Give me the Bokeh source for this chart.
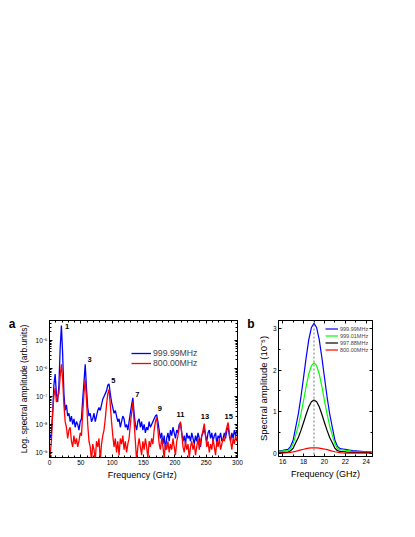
import math
from bokeh.plotting import figure
from bokeh.models import (FixedTicker, LinearAxis, Range1d, Legend, LegendItem, Span,
                          ColumnDataSource, CustomJSTickFormatter)
from bokeh.layouts import row
from bokeh.embed import file_html
from bokeh.resources import INLINE
from bokeh.core.properties import value

FONT = "Liberation Sans"

# ---------------- Panel a data (log10 of spectral amplitude) ----------------
FREQ_A = list(range(1, 300, 2))
BLUE_A = [
    -8.5, -8.3, -7.6, -6.6, -6.2, -6.9, -7.2, -6.6, -5.3, -4.47,
    -5.5, -6.9, -7.5, -7.3, -7.7, -7.6, -7.9, -7.7, -8.0, -7.8,
    -8.1, -7.9, -8.0, -8.2, -7.9, -7.8, -7.1, -6.5, -5.85, -6.7,
    -7.4, -7.7, -7.6, -7.9, -7.8, -7.6, -7.9, -7.7, -7.5, -7.4,
    -7.5, -7.3, -7.1, -7.0, -6.9, -6.8, -6.6, -6.55, -6.9, -7.2,
    -7.4, -7.6, -7.5, -7.7, -7.9, -7.8, -8.1, -7.9, -7.7, -7.8,
    -8.1, -8.0, -8.2, -7.9, -7.6, -7.3, -7.05, -7.6, -8.0, -8.2,
    -7.9, -7.8, -8.1, -7.9, -8.2, -8.0, -8.3, -8.1, -8.2, -7.9,
    -8.1, -8.0, -7.9, -7.8, -7.7, -7.65, -7.9, -8.2, -8.5, -8.3,
    -8.7, -8.4, -8.9, -8.5, -8.3, -8.6, -8.2, -8.4, -8.1, -8.3,
    -8.5, -8.2, -8.3, -8.0, -7.95, -8.3, -8.6, -8.4, -8.7, -8.3,
    -8.5, -8.4, -8.6, -8.3, -8.5, -8.7, -8.4, -8.6, -8.3, -8.5,
    -8.8, -8.4, -8.3, -8.15, -8.4, -8.6, -8.3, -8.2, -8.5, -8.3,
    -8.6, -8.4, -8.3, -8.7, -8.4, -8.5, -8.3, -8.6, -8.5, -8.3,
    -8.5, -8.2, -8.1, -8.4, -8.6, -8.3, -8.5, -8.2, -8.4, -8.2,
]
RED_A = [
    -9.1, -8.6, -7.6, -7.0, -6.7, -7.2, -7.0, -6.9, -6.3, -5.85,
    -6.4, -7.3, -7.9, -8.1, -8.5, -8.2, -8.1, -8.6, -8.8, -8.4,
    -8.7, -8.5, -8.8, -8.6, -8.3, -8.4, -7.6, -6.9, -6.4, -7.1,
    -8.0, -8.6, -8.8, -9.3, -8.7, -8.9, -9.3, -8.6, -8.8, -8.5,
    -9.3, -8.7, -8.4, -8.2, -7.8, -7.3, -6.9, -6.75, -7.3, -7.9,
    -8.4, -8.8, -8.5, -9.0, -8.6, -9.1, -8.5, -8.7, -8.4, -8.9,
    -8.6, -9.0, -8.7, -8.5, -8.0, -7.6, -7.2, -7.9, -8.6, -9.3,
    -8.8, -8.5, -8.8, -9.1, -8.6, -8.9, -8.5, -8.8, -9.2, -8.6,
    -8.8, -8.5, -8.7, -8.2, -7.9, -7.75, -8.2, -8.7, -8.9, -8.5,
    -8.8, -9.2, -8.7, -8.9, -8.6, -9.0, -8.7, -8.9, -8.5, -8.8,
    -9.1, -8.6, -8.4, -8.1, -7.9, -8.3, -8.8, -9.0, -8.6, -8.9,
    -8.7, -9.2, -8.8, -8.6, -8.9, -8.7, -9.1, -8.8, -8.5, -8.9,
    -8.6, -8.4, -8.2, -7.97, -8.4, -8.8, -8.6, -9.0, -8.7, -8.9,
    -8.5, -8.8, -9.1, -8.6, -8.8, -8.5, -8.9, -8.7, -8.5, -8.6,
    -8.3, -8.1, -7.93, -8.3, -8.6, -8.9, -8.5, -8.7, -8.4, -8.6,
]
SERIES_A = ["999.99MHz", "800.00MHz"]
HARMONIC_LABELS = ["1", "3", "5", "7", "9", "11", "13", "15"]
HARMONIC_LABEL_X = [28, 64, 102, 140, 176, 209, 248, 286]
HARMONIC_LABEL_Y = [-4.52, -5.69, -6.43, -6.94, -7.44, -7.65, -7.71, -7.71]
Y_TICKS_A = [-5, -6, -7, -8, -9]
Y_TICK_LABELS_A = ["10⁻⁵", "10⁻⁶", "10⁻⁷", "10⁻⁸", "10⁻⁹"]
X_TICKS_A = [0, 50, 100, 150, 200, 250, 300]
PANEL_A_TAG, PANEL_A_TAG_Y = "a", -4.4

# ---------------- Panel b data ----------------
FREQ_B = [15.5, 15.75, 16.0, 16.25, 16.5, 16.75, 17.0, 17.25, 17.5, 17.75,
          18.0, 18.25, 18.5, 18.75, 19.0, 19.25, 19.5, 19.75, 20.0, 20.25,
          20.5, 20.75, 21.0, 21.25, 21.5, 21.75, 22.0, 22.25, 22.5, 22.75,
          23.0, 23.25, 23.5, 23.75, 24.0, 24.25, 24.5]
B_999_99 = [0.06, 0.065, 0.07, 0.08, 0.09, 0.16, 0.31, 0.63, 0.95, 1.36,
            1.83, 2.31, 2.74, 3.03, 3.13, 3.03, 2.74, 2.31, 1.83, 1.36,
            0.95, 0.63, 0.31, 0.16, 0.11, 0.10, 0.09, 0.08, 0.07, 0.06,
            0.055, 0.05, 0.045, 0.04, 0.04, 0.035, 0.03]
B_999_01 = [0.05, 0.05, 0.05, 0.055, 0.06, 0.11, 0.22, 0.44, 0.66, 0.95,
            1.27, 1.61, 1.91, 2.11, 2.18, 2.11, 1.91, 1.61, 1.27, 0.95,
            0.66, 0.44, 0.22, 0.11, 0.08, 0.08, 0.07, 0.06, 0.05, 0.045,
            0.04, 0.04, 0.035, 0.03, 0.03, 0.03, 0.03]
B_997_88 = [0.02, 0.02, 0.02, 0.02, 0.02, 0.06, 0.12, 0.25, 0.38, 0.55,
            0.74, 0.94, 1.12, 1.24, 1.28, 1.24, 1.12, 0.94, 0.74, 0.55,
            0.38, 0.25, 0.12, 0.06, 0.04, 0.04, 0.03, 0.02, 0.02, 0.02,
            0.02, 0.02, 0.02, 0.02, 0.02, 0.02, 0.02]
B_800_00 = [0.0, 0.0, 0.0, 0.005, 0.01, 0.02, 0.03, 0.045, 0.06, 0.08,
            0.095, 0.11, 0.12, 0.128, 0.13, 0.128, 0.122, 0.112, 0.1, 0.085,
            0.068, 0.05, 0.035, 0.022, 0.012, 0.006, 0.003, 0.0, 0.0, 0.0,
            0.0, 0.0, 0.0, 0.0, 0.0, 0.0, 0.0]
SERIES_B = ["999.99MHz", "999.01MHz", "997.88MHz", "800.00MHz"]
PEAK_FREQ_B = 19.0
PANEL_B_TAG, PANEL_B_TAG_Y = "b", 3.12

BLANK = CustomJSTickFormatter(code="return ''")


def style_axis(ax, ticks, minor, size="6.5px", show_labels=True):
    ax.ticker = FixedTicker(ticks=ticks, minor_ticks=minor)
    ax.axis_line_color = "black"
    ax.axis_line_width = 1
    ax.major_tick_line_color = "black"
    ax.minor_tick_line_color = "black"
    ax.major_tick_in = 3
    ax.major_tick_out = 0
    ax.minor_tick_in = 2
    ax.minor_tick_out = 0
    ax.major_label_text_font = FONT
    ax.major_label_text_color = "black"
    ax.major_label_text_font_size = size
    ax.major_label_standoff = 2
    ax.axis_label_standoff = 3
    ax.axis_label_text_font = FONT
    ax.axis_label_text_font_style = "normal"
    ax.axis_label_text_color = "black"
    if not show_labels:
        ax.formatter = BLANK
        ax.major_label_standoff = 0


def tag_axis(tag, y, standoff):
    """A label-only left axis carrying the panel letter."""
    ax = LinearAxis(ticker=FixedTicker(ticks=[y], minor_ticks=[]),
                    formatter=CustomJSTickFormatter(code="return '%s'" % tag))
    ax.axis_line_color = None
    ax.major_tick_line_color = None
    ax.minor_tick_line_color = None
    ax.major_tick_in = 0
    ax.major_tick_out = 0
    ax.major_label_standoff = standoff
    ax.major_label_orientation = "horizontal"
    ax.major_label_text_font = FONT
    ax.major_label_text_font_style = "bold"
    ax.major_label_text_font_size = "12px"
    ax.major_label_text_color = "black"
    return ax


# ---------------- Panel a ----------------
pa = figure(frame_width=188, frame_height=137,
            x_range=Range1d(0, 300), y_range=Range1d(-9.18, -4.29),
            output_backend="svg", toolbar_location=None,
            min_border_left=49, min_border_right=6,
            min_border_top=320, min_border_bottom=30)
pa.xgrid.visible = False
pa.ygrid.visible = False
pa.outline_line_color = "black"
pa.background_fill_color = "white"
pa.border_fill_color = "white"

minor_x_a = [v for v in range(0, 301, 10) if v % 50]
minor_y_a = [n + math.log10(k) for n in range(-10, -4) for k in range(2, 10)]

style_axis(pa.xaxis[0], X_TICKS_A, minor_x_a)
pa.xaxis[0].axis_label = "Frequency  (GHz)"
pa.xaxis[0].axis_label_text_font_size = "9px"
pa.xaxis[0].axis_label_standoff = 2
style_axis(pa.yaxis[0], Y_TICKS_A, minor_y_a)
pa.yaxis[0].major_label_overrides = {t: l for t, l in zip(Y_TICKS_A, Y_TICK_LABELS_A)}
pa.yaxis[0].axis_label = "Log. spectral amplitude (arb.units)"
pa.yaxis[0].axis_label_text_font_size = "8.5px"

top_a = LinearAxis()
style_axis(top_a, X_TICKS_A, minor_x_a, show_labels=False)
pa.add_layout(top_a, "above")
right_a = LinearAxis()
style_axis(right_a, Y_TICKS_A, minor_y_a, show_labels=False)
pa.add_layout(right_a, "right")
pa.add_layout(tag_axis(PANEL_A_TAG, PANEL_A_TAG_Y, 1), "left")

rb = pa.line(FREQ_A, BLUE_A, line_color="#0000ff", line_width=1.3)
rr = pa.line(FREQ_A, RED_A, line_color="#ff0000", line_width=1.3)

src_lab = ColumnDataSource(dict(x=HARMONIC_LABEL_X, y=HARMONIC_LABEL_Y, t=HARMONIC_LABELS))
pa.text(x="x", y="y", text="t", source=src_lab, text_font=value(FONT),
        text_font_style="bold", text_font_size="7.5px", text_align="center",
        text_baseline="middle", text_color="black")

leg_a = Legend(items=[LegendItem(label=SERIES_A[0], renderers=[rb]),
                      LegendItem(label=SERIES_A[1], renderers=[rr])],
               location=(82, 89), border_line_color=None, background_fill_alpha=0,
               padding=0, margin=0, spacing=0, glyph_width=20, glyph_height=10,
               label_height=10, label_standoff=2, label_text_font=FONT,
               label_text_font_size="8.7px")
pa.add_layout(leg_a)

# ---------------- Panel b ----------------
pb = figure(frame_width=94, frame_height=136,
            x_range=Range1d(15.6, 24.6), y_range=Range1d(-0.08, 3.2),
            output_backend="svg", toolbar_location=None,
            min_border_left=35, min_border_right=20,
            min_border_top=320, min_border_bottom=31)
pb.xgrid.visible = False
pb.ygrid.visible = False
pb.outline_line_color = "black"
pb.background_fill_color = "white"
pb.border_fill_color = "white"

X_TICKS_B = [16, 18, 20, 22, 24]
minor_x_b = [15, 17, 19, 21, 23, 25]
Y_TICKS_B = [0, 1, 2, 3]
minor_y_b = [0.5, 1.5, 2.5]

style_axis(pb.xaxis[0], X_TICKS_B, minor_x_b)
pb.xaxis[0].axis_label = "Frequency (GHz)"
pb.xaxis[0].axis_label_text_font_size = "9px"
pb.xaxis[0].axis_label_standoff = 2
style_axis(pb.yaxis[0], Y_TICKS_B, minor_y_b)
pb.yaxis[0].axis_label = "Spectral amplitude (10⁻⁵)"
pb.yaxis[0].axis_label_text_font_size = "9.5px"
pb.yaxis[0].axis_label_standoff = 1

top_b = LinearAxis()
style_axis(top_b, X_TICKS_B, minor_x_b, show_labels=False)
pb.add_layout(top_b, "above")
right_b = LinearAxis()
style_axis(right_b, Y_TICKS_B, minor_y_b, show_labels=False)
pb.add_layout(right_b, "right")
pb.add_layout(tag_axis(PANEL_B_TAG, PANEL_B_TAG_Y, 0), "left")

pb.add_layout(Span(location=PEAK_FREQ_B, dimension="height", line_color="#555555",
                   line_dash="2 2", line_width=0.8))

colors_b = ["#0000ff", "#00ff00", "#000000", "#ff0000"]
renderers_b = []
for ys, c in zip([B_999_99, B_999_01, B_997_88, B_800_00], colors_b):
    renderers_b.append(pb.line(FREQ_B, ys, line_color=c, line_width=1.2))

leg_b = Legend(items=[LegendItem(label=s, renderers=[r]) for s, r in zip(SERIES_B, renderers_b)],
               location=(47, 103), border_line_color=None, background_fill_alpha=0,
               padding=0, margin=0, spacing=0, glyph_width=13, glyph_height=7,
               label_height=7, label_standoff=2, label_text_font=FONT,
               label_text_font_size="5.5px")
pb.add_layout(leg_b)

layout = row(pa, pb)
open("out.html", "w").write(file_html(layout, INLINE))
